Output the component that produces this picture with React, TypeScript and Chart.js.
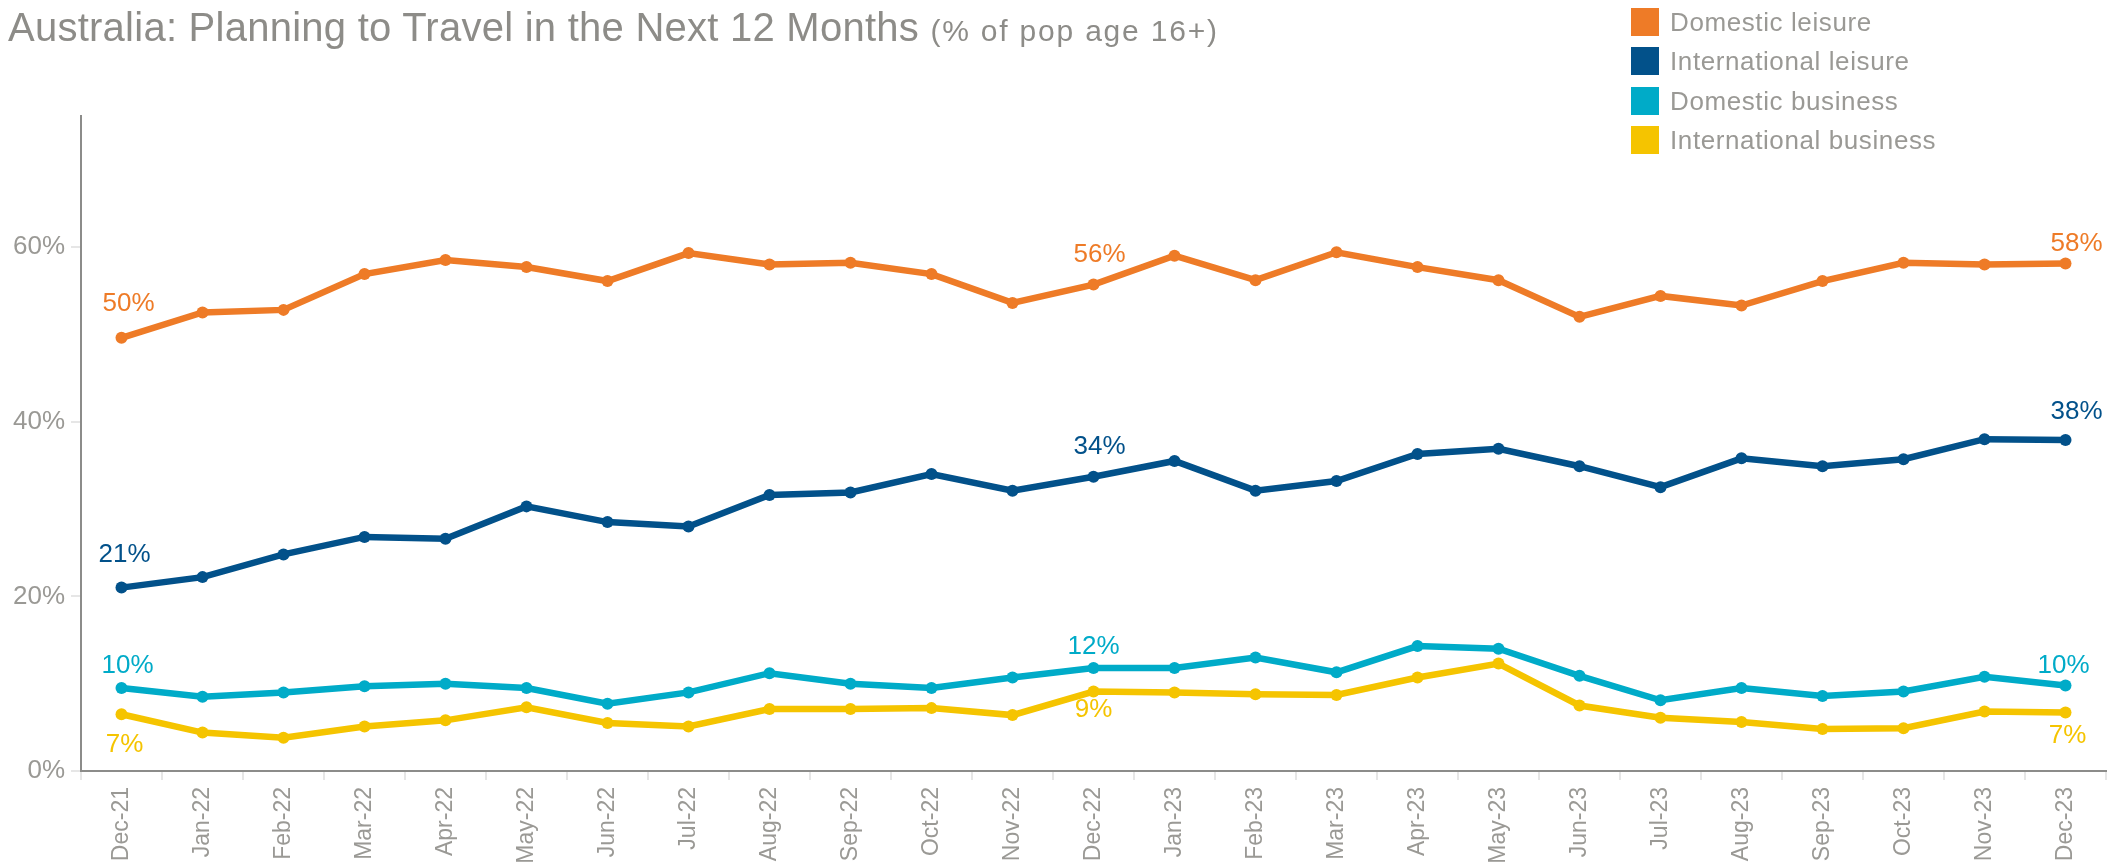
import React, { useEffect, useRef } from 'react';
import { Chart, registerables } from 'chart.js';

Chart.register(...registerables);

// ---- Data ----
const months = [
  'Dec-21', 'Jan-22', 'Feb-22', 'Mar-22', 'Apr-22', 'May-22', 'Jun-22', 'Jul-22', 'Aug-22',
  'Sep-22', 'Oct-22', 'Nov-22', 'Dec-22', 'Jan-23', 'Feb-23', 'Mar-23', 'Apr-23', 'May-23',
  'Jun-23', 'Jul-23', 'Aug-23', 'Sep-23', 'Oct-23', 'Nov-23', 'Dec-23',
];

const domesticLeisure = [
  49.6, 52.5, 52.8, 56.9, 58.5, 57.7, 56.1, 59.3, 58.0, 58.2, 56.9, 53.6, 55.7,
  59.0, 56.2, 59.4, 57.7, 56.2, 52.0, 54.4, 53.3, 56.1, 58.2, 58.0, 58.1,
];

const internationalLeisure = [
  21.0, 22.2, 24.8, 26.8, 26.6, 30.3, 28.5, 28.0, 31.6, 31.9, 34.0, 32.1, 33.7,
  35.5, 32.1, 33.2, 36.3, 36.9, 34.9, 32.5, 35.8, 34.9, 35.7, 38.0, 37.9,
];

const domesticBusiness = [
  9.5, 8.5, 9.0, 9.7, 10.0, 9.5, 7.7, 9.0, 11.2, 10.0, 9.5, 10.7, 11.8,
  11.8, 13.0, 11.3, 14.3, 14.0, 10.9, 8.1, 9.5, 8.6, 9.1, 10.8, 9.8,
];

const internationalBusiness = [
  6.5, 4.4, 3.8, 5.1, 5.8, 7.3, 5.5, 5.1, 7.1, 7.1, 7.2, 6.4, 9.1,
  9.0, 8.8, 8.7, 10.7, 12.3, 7.5, 6.1, 5.6, 4.8, 4.9, 6.8, 6.7,
];

const seriesNames = ['Domestic leisure', 'International leisure', 'Domestic business', 'International business'];
const seriesColors = ['#EE7B27', '#02518A', '#00ABC8', '#F5C400'];
const yTickValues = [0, 20, 40, 60];
const yMax = 75;
const labelIndices = [0, 12, 24];

// ---- Label styling (offsets in px relative to point; below=true places text under the point) ----
const labelStyle = [
  { below: false, offsets: [[7, -27], [6, -23], [11, -13]] },
  { below: false, offsets: [[3, -26], [6, -23], [11, -21]] },
  { below: false, offsets: [[6, -15], [0, -14], [-2, -12]] },
  { below: true, offsets: [[3, 18], [0, 5], [2, 10]] },
];

const FONT = '"Liberation Sans", Arial, sans-serif';
const TEXT_GRAY = '#9a9995';

const endLabelsPlugin = {
  id: 'endLabels',
  afterDatasetsDraw(chart: any) {
    const ctx = chart.ctx;
    ctx.save();
    ctx.font = `26px ${FONT}`;
    ctx.textAlign = 'center';
    chart.data.datasets.forEach((ds: any, di: number) => {
      const meta = chart.getDatasetMeta(di);
      const style = labelStyle[di];
      labelIndices.forEach((idx, k) => {
        const pt = meta.data[idx];
        if (!pt) return;
        const v = ds.data[idx];
        const [dx, dy] = style.offsets[k];
        ctx.fillStyle = ds.borderColor;
        ctx.textBaseline = style.below ? 'top' : 'alphabetic';
        ctx.fillText(`${Math.round(v)}%`, pt.x + dx, pt.y + dy);
      });
    });
    ctx.restore();
  },
};

export default function App() {
  const canvasRef = useRef<HTMLCanvasElement | null>(null);

  useEffect(() => {
    if (!canvasRef.current) return;
    const allSeries = [domesticLeisure, internationalLeisure, domesticBusiness, internationalBusiness];
    const chart = new Chart(canvasRef.current, {
      type: 'line',
      data: {
        labels: months,
        datasets: allSeries.map((d, i) => ({
          label: seriesNames[i],
          data: d,
          borderColor: seriesColors[i],
          backgroundColor: seriesColors[i],
          pointBackgroundColor: seriesColors[i],
          pointBorderWidth: 0,
          pointRadius: 6,
          pointHoverRadius: 6,
          borderWidth: 6.5,
          tension: 0,
          fill: false,
        })),
      },
      options: {
        responsive: false,
        animation: false,
        devicePixelRatio: 1,
        layout: { padding: { top: 116, right: 17, left: 0, bottom: 0 } },
        plugins: {
          legend: { display: false },
          tooltip: { enabled: false },
          title: { display: false },
        },
        scales: {
          x: {
            type: 'category',
            offset: true,
            grid: {
              display: true,
              offset: true,
              drawOnChartArea: false,
              drawTicks: true,
              tickLength: 9,
              color: '#e6e6e6',
              lineWidth: 2,
            },
            border: { display: true, color: '#8c8c8a', width: 2 },
            ticks: {
              autoSkip: false,
              maxRotation: 90,
              minRotation: 90,
              padding: 7,
              color: TEXT_GRAY,
              font: { family: FONT, size: 23 },
            },
            afterFit: (scale: any) => {
              scale.height = 865 - 771;
            },
          },
          y: {
            min: 0,
            max: yMax,
            grid: {
              display: true,
              drawOnChartArea: false,
              drawTicks: true,
              tickLength: 10,
              color: '#e6e6e6',
              lineWidth: 2,
            },
            border: { display: true, color: '#8c8c8a', width: 2 },
            ticks: {
              padding: 6,
              color: TEXT_GRAY,
              font: { family: FONT, size: 26 },
              callback: (v: any) => `${v}%`,
            },
            afterBuildTicks: (scale: any) => {
              scale.ticks = yTickValues.map((v) => ({ value: v }));
            },
            afterFit: (scale: any) => {
              scale.width = 81;
            },
          },
        },
      },
      plugins: [endLabelsPlugin],
    } as any);
    return () => chart.destroy();
  }, []);

  return (
    <div style={{ position: 'absolute', left: 0, top: 0, width: 2123, height: 865, background: '#fff', overflow: 'hidden' }}>
      <canvas ref={canvasRef} width={2123} height={865} style={{ position: 'absolute', left: 0, top: 0, width: 2123, height: 865 }} />
      <div
        style={{
          position: 'absolute',
          left: 8,
          top: 7,
          fontFamily: FONT,
          fontSize: 40,
          lineHeight: '40px',
          letterSpacing: 0.25,
          color: '#8d8c88',
          whiteSpace: 'nowrap',
        }}
      >
        Australia: Planning to Travel in the Next 12 Months{' '}
        <span style={{ fontSize: 30, letterSpacing: 1.8 }}>(% of pop age 16+)</span>
      </div>
      {seriesNames.map((name, i) => (
        <div key={name} style={{ position: 'absolute', left: 1631, top: 8 + i * 39.3, height: 28, display: 'flex', alignItems: 'center' }}>
          <div style={{ width: 28, height: 28, background: seriesColors[i] }} />
          <span
            style={{
              marginLeft: 11,
              fontFamily: FONT,
              fontSize: 26,
              lineHeight: '28px',
              letterSpacing: 0.6,
              color: TEXT_GRAY,
              whiteSpace: 'nowrap',
            }}
          >
            {name}
          </span>
        </div>
      ))}
    </div>
  );
}
